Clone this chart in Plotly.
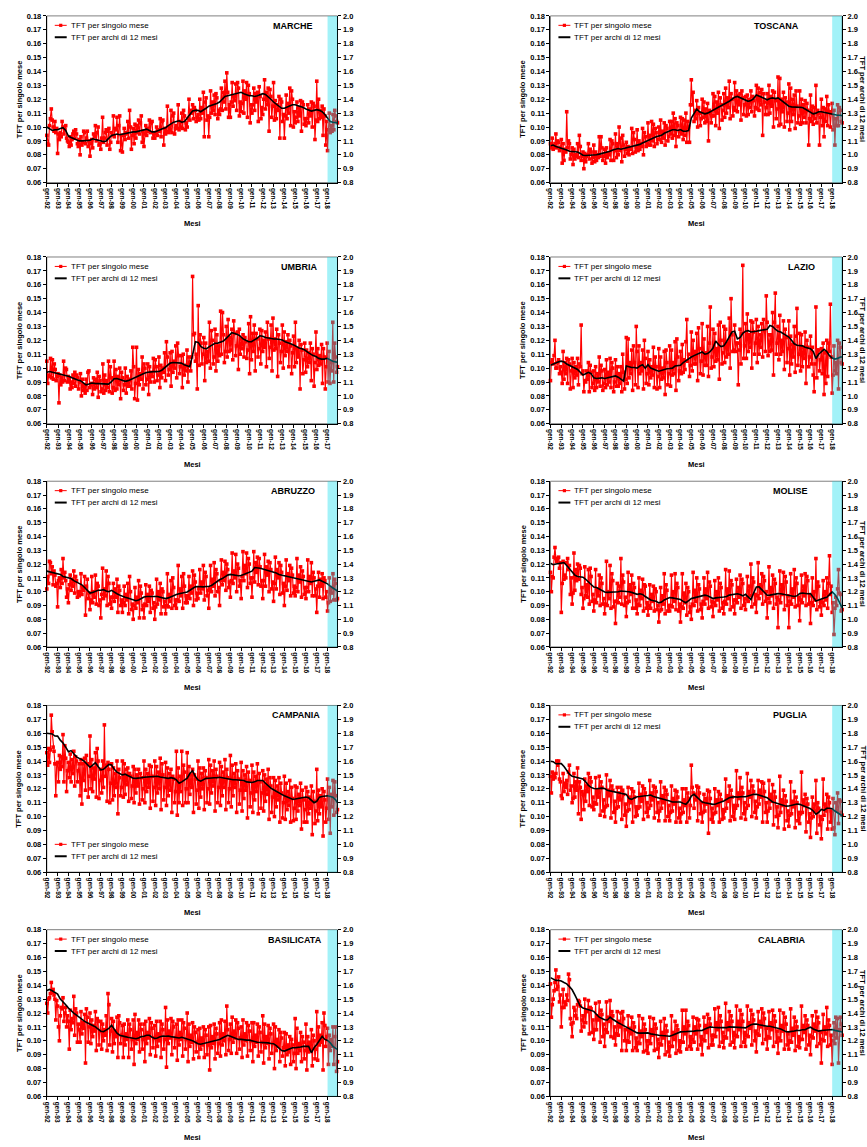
import sys
import plotly.graph_objects as go

W, H = 867, 1147
FONT = "Arial, 'Liberation Sans', sans-serif"
MESI = ["gen", "feb", "mar", "apr", "mag", "giu", "lug", "ago", "set", "ott", "nov", "dic"]

# ---------------- DATA: monthly TFT (thousandths), one row per year from 1992 ----------------
marche_mese = [
    94, 88, 87, 101, 106, 113, 105, 100, 97, 104, 96, 99,
    81, 95, 91, 96, 93, 104, 100, 95, 98, 101, 92, 90,
    89, 86, 93, 87, 91, 95, 97, 92, 98, 95, 88, 86,
    91, 80, 93, 87, 89, 97, 96, 88, 92, 97, 86, 90,
    79, 88, 91, 85, 95, 93, 101, 90, 96, 100, 87, 88,
    84, 92, 107, 89, 92, 96, 98, 87, 97, 99, 84, 89,
    96, 94, 108, 93, 99, 98, 107, 89, 101, 108, 83, 94,
    82, 94, 99, 91, 96, 95, 104, 92, 112, 100, 84, 94,
    99, 88, 102, 92, 101, 96, 105, 95, 103, 108, 89, 97,
    86, 95, 101, 94, 99, 97, 105, 96, 103, 104, 92, 95,
    92, 96, 100, 94, 98, 97, 106, 93, 104, 105, 87, 99,
    95, 97, 115, 96, 100, 98, 112, 96, 108, 110, 95, 99,
    101, 99, 116, 98, 104, 100, 110, 99, 112, 108, 98, 103,
    100, 106, 120, 105, 112, 110, 116, 106, 114, 112, 104, 107,
    109, 105, 120, 106, 114, 110, 125, 93, 118, 121, 105, 108,
    93, 107, 126, 110, 118, 112, 123, 109, 124, 121, 106, 112,
    109, 113, 128, 112, 125, 118, 133, 113, 139, 125, 107, 116,
    107, 118, 132, 115, 122, 119, 131, 112, 132, 128, 108, 118,
    111, 117, 133, 110, 126, 120, 132, 107, 130, 124, 103, 116,
    110, 116, 128, 112, 124, 118, 125, 104, 129, 122, 106, 114,
    109, 120, 134, 113, 125, 116, 128, 97, 127, 122, 107, 115,
    132, 105, 119, 106, 116, 112, 122, 92, 120, 118, 104, 109,
    92, 108, 123, 106, 117, 110, 128, 101, 126, 120, 100, 111,
    103, 107, 118, 104, 114, 108, 119, 97, 118, 116, 102, 106,
    101, 106, 116, 103, 113, 108, 118, 100, 117, 115, 91, 105,
    133, 104, 120, 106, 112, 107, 115, 94, 113, 108, 87, 104,
    83, 98, 110, 96, 101, 97, 109, 98, 112, 108, 104, 103,
]
toscana_mese = [
    88, 85, 92, 84, 86, 88, 95, 85, 90, 89, 83, 85,
    91, 74, 88, 76, 84, 82, 111, 85, 90, 88, 77, 80,
    85, 73, 84, 77, 80, 79, 88, 78, 94, 86, 76, 79,
    82, 70, 81, 75, 79, 80, 88, 77, 84, 82, 74, 78,
    87, 75, 82, 76, 80, 78, 93, 79, 93, 85, 76, 79,
    84, 74, 85, 78, 81, 80, 91, 76, 90, 88, 76, 83,
    95, 78, 88, 80, 100, 83, 92, 75, 94, 87, 79, 84,
    89, 81, 86, 80, 85, 84, 99, 81, 96, 91, 82, 85,
    98, 83, 90, 84, 88, 86, 99, 80, 96, 93, 86, 88,
    103, 87, 94, 87, 104, 90, 102, 86, 99, 96, 88, 91,
    100, 91, 105, 89, 97, 92, 103, 87, 101, 99, 90, 93,
    104, 95, 104, 92, 110, 94, 106, 86, 103, 101, 93, 97,
    107, 95, 106, 91, 105, 94, 110, 89, 104, 100, 89, 116,
    134, 116, 125, 104, 112, 106, 119, 100, 114, 110, 101, 106,
    120, 107, 118, 103, 113, 104, 117, 90, 112, 110, 103, 108,
    124, 108, 122, 101, 118, 110, 125, 99, 121, 116, 105, 112,
    124, 107, 128, 110, 121, 114, 133, 106, 124, 120, 108, 114,
    132, 112, 126, 111, 123, 116, 124, 105, 126, 121, 109, 116,
    122, 108, 123, 109, 120, 114, 126, 111, 122, 119, 108, 114,
    130, 113, 128, 112, 125, 116, 127, 94, 124, 118, 109, 114,
    124, 109, 130, 110, 122, 115, 126, 100, 125, 119, 106, 113,
    136, 101, 135, 102, 120, 111, 125, 100, 121, 118, 104, 110,
    131, 98, 128, 104, 120, 109, 123, 99, 126, 115, 103, 108,
    126, 102, 120, 103, 116, 107, 119, 103, 117, 112, 87, 106,
    123, 104, 115, 102, 114, 106, 130, 103, 112, 110, 87, 107,
    120, 101, 114, 93, 113, 104, 122, 101, 116, 111, 100, 110,
    117, 98, 112, 87, 106, 101, 116, 101, 114, 112, 104, 103,
]
umbria_mese = [
    105, 89, 95, 94, 107, 93, 106, 92, 103, 99, 91, 94,
    96, 75, 95, 88, 93, 90, 105, 91, 100, 99, 90, 94,
    92, 85, 90, 86, 95, 89, 97, 87, 95, 93, 85, 90,
    96, 80, 92, 84, 88, 82, 92, 84, 97, 98, 86, 88,
    89, 81, 93, 85, 92, 86, 97, 79, 94, 91, 83, 85,
    103, 82, 95, 84, 91, 86, 105, 83, 101, 93, 82, 86,
    105, 84, 99, 85, 94, 88, 100, 78, 97, 93, 84, 88,
    100, 82, 94, 87, 92, 87, 98, 85, 115, 101, 78, 89,
    115, 77, 99, 88, 96, 92, 108, 85, 103, 100, 88, 92,
    103, 81, 101, 90, 97, 94, 107, 90, 106, 101, 91, 95,
    108, 86, 102, 93, 100, 97, 111, 91, 119, 108, 95, 99,
    111, 87, 112, 97, 105, 100, 116, 93, 118, 109, 96, 101,
    109, 86, 110, 95, 102, 98, 113, 90, 108, 104, 98, 108,
    166, 124, 125, 105, 110, 85, 145, 102, 124, 118, 103, 110,
    122, 91, 118, 104, 112, 105, 133, 100, 127, 120, 103, 108,
    128, 98, 124, 105, 116, 109, 141, 110, 140, 124, 104, 112,
    130, 108, 135, 112, 122, 113, 128, 106, 134, 125, 109, 116,
    126, 99, 128, 110, 121, 114, 124, 108, 122, 119, 107, 113,
    132, 96, 137, 106, 125, 112, 131, 98, 125, 121, 108, 114,
    128, 103, 127, 112, 120, 115, 126, 101, 133, 121, 107, 115,
    131, 98, 136, 113, 121, 114, 128, 94, 124, 118, 104, 112,
    131, 100, 126, 109, 119, 112, 124, 101, 120, 116, 96, 111,
    123, 101, 133, 104, 114, 108, 120, 85, 117, 113, 96, 106,
    118, 97, 113, 101, 111, 104, 118, 91, 114, 110, 87, 104,
    126, 99, 114, 102, 109, 103, 117, 89, 114, 108, 85, 101,
    118, 90, 112, 89, 104, 98, 133, 90, 118, 108, 97, 101,
]
lazio_mese = [
    91, 104, 106, 103, 109, 120, 100, 100, 104, 106, 96, 101,
    97, 89, 112, 92, 104, 96, 107, 89, 106, 103, 85, 98,
    107, 86, 104, 93, 101, 95, 107, 88, 103, 101, 131, 96,
    98, 83, 91, 90, 98, 92, 104, 83, 102, 97, 86, 89,
    98, 84, 101, 86, 96, 90, 108, 87, 102, 98, 84, 89,
    99, 86, 106, 88, 97, 90, 107, 86, 104, 100, 83, 90,
    106, 87, 101, 87, 96, 89, 101, 83, 110, 97, 85, 92,
    122, 89, 121, 93, 104, 96, 113, 84, 116, 104, 88, 130,
    112, 86, 116, 96, 104, 98, 113, 85, 120, 107, 89, 96,
    112, 88, 106, 93, 101, 95, 115, 86, 108, 101, 85, 94,
    114, 86, 108, 92, 100, 93, 112, 81, 113, 104, 88, 96,
    116, 87, 113, 95, 104, 96, 119, 84, 121, 108, 91, 98,
    112, 96, 117, 97, 106, 99, 119, 135, 105, 110, 94, 102,
    126, 98, 120, 103, 112, 103, 125, 91, 129, 114, 96, 105,
    132, 95, 121, 102, 111, 102, 130, 94, 118, 144, 100, 108,
    128, 101, 125, 105, 114, 106, 131, 92, 133, 120, 103, 111,
    130, 104, 128, 108, 118, 110, 136, 100, 150, 124, 112, 113,
    131, 112, 118, 118, 88, 113, 128, 103, 125, 174, 107, 116,
    132, 107, 139, 112, 124, 115, 134, 100, 133, 126, 110, 118,
    135, 104, 130, 110, 124, 115, 132, 108, 135, 127, 112, 152,
    133, 109, 124, 112, 124, 113, 140, 95, 133, 154, 110, 118,
    130, 106, 138, 110, 120, 112, 134, 99, 128, 122, 104, 114,
    134, 95, 123, 103, 117, 108, 130, 97, 123, 143, 102, 110,
    125, 98, 124, 101, 115, 107, 126, 89, 120, 115, 101, 108,
    123, 103, 115, 95, 83, 103, 144, 93, 113, 113, 98, 106,
    114, 96, 118, 81, 111, 89, 120, 94, 118, 112, 146, 108,
    82, 95, 116, 98, 104, 96, 120, 85, 118, 115, 104, 103,
]
abruzzo_mese = [
    102, 111, 106, 122, 121, 113, 118, 105, 115, 112, 104, 106,
    89, 108, 110, 103, 116, 106, 124, 110, 114, 108, 96, 102,
    92, 105, 112, 101, 109, 104, 115, 99, 111, 108, 96, 100,
    97, 100, 113, 98, 103, 101, 111, 83, 104, 109, 95, 99,
    87, 94, 111, 92, 100, 96, 112, 91, 106, 104, 90, 94,
    81, 98, 117, 95, 102, 97, 115, 90, 111, 106, 91, 96,
    88, 96, 106, 93, 102, 96, 109, 85, 104, 101, 90, 94,
    85, 92, 104, 90, 98, 94, 106, 84, 111, 100, 87, 91,
    80, 90, 103, 88, 96, 92, 108, 81, 104, 99, 87, 90,
    81, 91, 105, 90, 98, 93, 104, 85, 101, 99, 88, 92,
    80, 89, 109, 91, 100, 94, 106, 84, 102, 100, 89, 93,
    84, 90, 113, 89, 98, 93, 108, 88, 110, 103, 90, 94,
    88, 94, 119, 93, 102, 97, 111, 88, 113, 104, 92, 97,
    92, 97, 111, 95, 104, 99, 115, 90, 112, 107, 94, 99,
    95, 102, 116, 99, 107, 102, 119, 94, 114, 111, 97, 101,
    88, 102, 119, 100, 109, 104, 121, 97, 116, 113, 100, 103,
    90, 108, 123, 105, 114, 108, 122, 101, 120, 116, 103, 107,
    96, 108, 128, 106, 115, 110, 127, 100, 120, 117, 104, 108,
    95, 111, 129, 108, 119, 113, 128, 103, 124, 120, 106, 110,
    96, 110, 129, 107, 121, 114, 125, 105, 124, 118, 104, 108,
    95, 108, 127, 104, 118, 112, 122, 100, 121, 116, 102, 107,
    93, 106, 125, 102, 116, 110, 121, 98, 119, 114, 99, 106,
    90, 104, 123, 101, 113, 108, 119, 97, 117, 112, 99, 104,
    97, 103, 124, 100, 112, 107, 118, 96, 115, 111, 98, 103,
    95, 103, 123, 100, 111, 106, 121, 97, 114, 110, 97, 102,
    85, 104, 114, 96, 109, 104, 113, 95, 110, 108, 96, 100,
    86, 92, 110, 93, 103, 99, 113, 94, 109, 106, 94, 95,
]
molise_mese = [
    114, 100, 111, 110, 125, 132, 124, 122, 124, 125, 117, 121,
    85, 106, 122, 109, 112, 110, 121, 124, 116, 119, 98, 110,
    91, 99, 128, 101, 116, 108, 120, 109, 119, 117, 98, 103,
    88, 95, 118, 97, 105, 96, 116, 91, 117, 111, 93, 98,
    86, 94, 116, 92, 102, 97, 112, 90, 110, 106, 91, 95,
    84, 91, 122, 90, 100, 95, 119, 88, 113, 108, 89, 93,
    77, 93, 106, 92, 104, 96, 124, 91, 112, 107, 90, 96,
    82, 92, 114, 93, 105, 98, 112, 88, 106, 103, 88, 94,
    84, 91, 110, 90, 101, 95, 109, 86, 105, 104, 88, 92,
    83, 90, 105, 88, 98, 93, 104, 86, 102, 100, 87, 90,
    78, 86, 103, 87, 97, 91, 113, 84, 105, 101, 86, 90,
    86, 90, 112, 89, 100, 93, 113, 87, 106, 103, 86, 91,
    78, 89, 113, 88, 99, 92, 106, 83, 103, 100, 85, 89,
    80, 91, 114, 90, 101, 93, 110, 86, 105, 102, 87, 91,
    81, 93, 110, 91, 102, 95, 114, 88, 107, 104, 89, 93,
    82, 92, 108, 90, 100, 94, 110, 86, 106, 103, 88, 92,
    84, 93, 116, 91, 102, 95, 115, 87, 108, 105, 89, 94,
    84, 94, 109, 92, 103, 96, 112, 88, 109, 106, 90, 95,
    87, 95, 111, 93, 104, 97, 120, 89, 110, 107, 91, 98,
    85, 97, 121, 95, 105, 99, 113, 91, 111, 108, 93, 100,
    81, 95, 118, 92, 103, 97, 112, 88, 109, 106, 91, 96,
    74, 94, 115, 92, 105, 98, 114, 87, 111, 107, 90, 97,
    74, 93, 113, 91, 102, 96, 116, 89, 110, 106, 90, 96,
    79, 94, 112, 92, 104, 97, 113, 90, 111, 108, 91, 97,
    77, 92, 110, 90, 100, 94, 124, 87, 107, 104, 89, 93,
    83, 92, 108, 90, 100, 94, 110, 88, 106, 126, 98, 104,
    85, 92, 69, 88, 96, 90, 102, 116, 99, 98, 86, 87,
]
campania_mese = [
    146, 137, 149, 139, 148, 173, 161, 150, 147, 138, 115, 138,
    139, 125, 144, 134, 143, 136, 159, 125, 151, 142, 118, 133,
    139, 128, 145, 125, 141, 131, 147, 122, 143, 140, 125, 133,
    138, 115, 141, 109, 138, 126, 142, 119, 144, 138, 114, 129,
    158, 120, 141, 118, 135, 127, 146, 114, 149, 140, 113, 126,
    134, 117, 140, 121, 166, 129, 137, 111, 139, 134, 110, 124,
    138, 112, 135, 115, 131, 121, 140, 102, 134, 128, 115, 121,
    140, 114, 138, 116, 134, 123, 135, 111, 131, 129, 113, 122,
    136, 110, 134, 117, 130, 122, 134, 109, 131, 128, 112, 120,
    140, 110, 134, 118, 131, 121, 137, 106, 136, 129, 111, 121,
    140, 108, 136, 117, 132, 120, 142, 105, 138, 130, 112, 121,
    139, 108, 135, 115, 131, 119, 134, 103, 129, 127, 110, 118,
    147, 101, 135, 110, 129, 118, 147, 108, 137, 132, 110, 120,
    146, 110, 136, 116, 130, 121, 134, 103, 130, 127, 109, 119,
    140, 106, 135, 114, 131, 120, 135, 105, 133, 128, 110, 120,
    141, 109, 137, 117, 133, 122, 140, 104, 134, 129, 110, 121,
    139, 108, 136, 115, 132, 121, 141, 105, 134, 128, 110, 120,
    144, 107, 137, 115, 131, 121, 138, 103, 133, 127, 109, 119,
    139, 104, 133, 113, 130, 119, 136, 99, 132, 126, 107, 117,
    137, 103, 132, 112, 129, 118, 138, 102, 131, 125, 106, 117,
    133, 104, 130, 111, 127, 116, 134, 98, 128, 122, 103, 114,
    128, 100, 126, 107, 122, 112, 128, 96, 124, 117, 99, 110,
    129, 98, 124, 105, 118, 108, 126, 96, 121, 113, 97, 106,
    122, 98, 121, 104, 116, 108, 124, 91, 119, 112, 96, 105,
    121, 96, 118, 102, 114, 106, 122, 87, 118, 111, 95, 104,
    134, 97, 119, 102, 115, 107, 120, 86, 118, 112, 96, 106,
    127, 98, 121, 88, 116, 107, 126, 101, 125, 115, 103, 105,
]
puglia_mese = [
    129, 117, 132, 127, 130, 128, 131, 140, 137, 140, 127, 125,
    115, 113, 131, 118, 124, 121, 126, 116, 132, 137, 119, 122,
    110, 113, 131, 114, 125, 119, 135, 102, 125, 121, 98, 118,
    116, 105, 127, 111, 122, 118, 131, 108, 128, 125, 107, 114,
    105, 110, 128, 109, 119, 114, 129, 101, 125, 121, 104, 112,
    100, 107, 130, 108, 119, 115, 126, 99, 122, 119, 103, 111,
    96, 106, 121, 107, 117, 112, 121, 98, 119, 116, 101, 109,
    93, 104, 121, 105, 114, 110, 120, 96, 118, 114, 100, 107,
    101, 106, 124, 107, 116, 111, 122, 98, 120, 117, 103, 110,
    100, 106, 126, 108, 117, 112, 122, 99, 121, 118, 103, 110,
    97, 104, 125, 106, 115, 110, 121, 97, 119, 116, 100, 108,
    97, 103, 122, 104, 113, 109, 119, 96, 118, 114, 99, 106,
    96, 102, 120, 103, 112, 108, 120, 96, 117, 113, 99, 108,
    137, 121, 117, 106, 116, 112, 122, 97, 121, 117, 102, 110,
    96, 103, 116, 104, 113, 109, 119, 88, 118, 113, 98, 106,
    96, 102, 120, 103, 112, 108, 118, 96, 116, 112, 98, 105,
    99, 104, 127, 106, 115, 111, 122, 97, 119, 114, 100, 108,
    98, 106, 133, 108, 117, 113, 128, 99, 121, 117, 102, 110,
    98, 106, 131, 108, 118, 114, 126, 100, 122, 118, 103, 111,
    99, 107, 126, 109, 119, 114, 125, 96, 124, 118, 103, 110,
    96, 104, 126, 106, 116, 111, 123, 94, 118, 114, 100, 107,
    92, 101, 129, 103, 112, 108, 119, 91, 115, 111, 97, 104,
    93, 101, 125, 102, 111, 107, 118, 92, 114, 110, 97, 103,
    95, 102, 132, 103, 112, 108, 116, 89, 113, 109, 96, 102,
    85, 99, 114, 100, 109, 104, 126, 88, 110, 106, 94, 100,
    84, 98, 127, 101, 109, 104, 116, 91, 114, 110, 96, 104,
    91, 113, 92, 87, 110, 104, 117, 95, 112, 111, 103, 101,
]
basilicata_mese = [
    127, 120, 130, 131, 134, 142, 135, 137, 133, 130, 115, 129,
    125, 110, 100, 118, 124, 123, 131, 114, 120, 124, 110, 118,
    114, 94, 122, 108, 116, 113, 132, 104, 123, 120, 99, 112,
    108, 99, 121, 105, 113, 109, 119, 84, 123, 117, 99, 110,
    120, 98, 115, 103, 111, 107, 121, 93, 116, 114, 97, 107,
    114, 94, 112, 100, 108, 104, 118, 93, 134, 126, 97, 107,
    116, 92, 114, 98, 107, 103, 117, 88, 118, 113, 98, 104,
    111, 88, 112, 97, 105, 101, 115, 88, 112, 108, 94, 101,
    115, 83, 119, 98, 106, 101, 115, 92, 112, 108, 94, 101,
    112, 85, 114, 98, 106, 102, 116, 90, 113, 109, 95, 102,
    111, 89, 114, 96, 105, 100, 114, 88, 112, 108, 94, 101,
    124, 81, 115, 98, 107, 102, 116, 90, 114, 110, 95, 102,
    112, 86, 115, 97, 106, 101, 115, 89, 113, 109, 94, 101,
    120, 85, 112, 96, 104, 99, 113, 87, 110, 106, 92, 99,
    108, 88, 109, 94, 102, 97, 110, 88, 108, 104, 90, 97,
    110, 79, 111, 95, 103, 98, 112, 87, 109, 105, 91, 98,
    113, 89, 115, 97, 105, 100, 114, 90, 125, 108, 93, 101,
    112, 91, 117, 99, 107, 102, 115, 91, 113, 109, 94, 102,
    110, 88, 115, 97, 105, 100, 113, 89, 111, 107, 93, 100,
    113, 85, 113, 96, 104, 99, 112, 89, 110, 106, 92, 99,
    118, 84, 112, 95, 103, 98, 111, 87, 109, 105, 91, 98,
    112, 80, 110, 93, 101, 96, 108, 85, 106, 102, 89, 95,
    106, 82, 105, 90, 97, 92, 103, 83, 101, 97, 85, 91,
    116, 80, 109, 91, 98, 93, 106, 85, 103, 99, 87, 93,
    112, 79, 103, 92, 99, 94, 108, 82, 104, 100, 87, 94,
    121, 86, 110, 97, 104, 99, 113, 79, 120, 111, 96, 103,
    109, 83, 104, 93, 101, 96, 110, 83, 103, 110, 78, 85,
]
calabria_mese = [
    141, 117, 126, 130, 136, 142, 151, 137, 139, 146, 128, 133,
    110, 124, 137, 124, 128, 126, 133, 129, 148, 144, 116, 112,
    103, 113, 124, 122, 118, 116, 126, 129, 128, 125, 107, 115,
    118, 110, 130, 113, 122, 121, 129, 105, 124, 123, 106, 115,
    101, 108, 127, 108, 118, 115, 128, 99, 122, 119, 103, 112,
    96, 108, 128, 106, 117, 114, 129, 103, 121, 118, 102, 110,
    97, 105, 121, 104, 114, 110, 120, 93, 121, 116, 100, 108,
    93, 100, 118, 99, 109, 105, 117, 93, 113, 110, 95, 102,
    93, 99, 118, 98, 107, 103, 116, 92, 112, 108, 93, 100,
    91, 100, 117, 98, 108, 104, 116, 93, 112, 109, 94, 101,
    88, 98, 114, 97, 106, 102, 116, 90, 111, 107, 92, 99,
    89, 96, 118, 96, 106, 101, 114, 91, 111, 108, 93, 100,
    92, 99, 122, 99, 110, 105, 122, 94, 114, 111, 96, 103,
    94, 101, 117, 99, 110, 105, 116, 94, 115, 111, 97, 103,
    90, 101, 117, 100, 111, 106, 119, 95, 116, 112, 97, 104,
    97, 104, 123, 103, 113, 108, 124, 96, 118, 114, 99, 106,
    95, 103, 127, 102, 113, 108, 121, 97, 118, 114, 99, 106,
    95, 104, 125, 103, 114, 108, 122, 96, 119, 114, 99, 106,
    96, 104, 125, 103, 113, 109, 122, 97, 119, 115, 100, 107,
    92, 105, 121, 104, 114, 110, 123, 98, 120, 116, 101, 109,
    94, 103, 121, 102, 113, 108, 122, 96, 118, 114, 99, 107,
    91, 102, 122, 100, 111, 107, 120, 94, 117, 112, 97, 105,
    94, 100, 123, 99, 109, 104, 117, 93, 114, 110, 96, 103,
    95, 101, 125, 101, 111, 106, 118, 94, 115, 111, 97, 104,
    90, 103, 118, 102, 112, 107, 121, 96, 117, 113, 98, 106,
    84, 101, 119, 100, 110, 105, 124, 96, 115, 111, 97, 104,
    83, 100, 113, 98, 117, 102, 116, 84, 108, 117, 112, 104,
]

# ---------------- DATA: TFT per archi di 12 mesi (right axis), quarterly (gen/apr/lug/ott) + last month ----------------
marche_archi = [
    1.200, 1.185, 1.175, 1.180, 1.180, 1.190, 1.195, 1.175, 1.135, 1.125, 1.115, 1.110,
    1.100, 1.100, 1.100, 1.105, 1.105, 1.115, 1.110, 1.105, 1.100, 1.095, 1.100, 1.120,
    1.140, 1.145, 1.150, 1.145, 1.150, 1.150, 1.155, 1.160, 1.165, 1.165, 1.170, 1.175,
    1.180, 1.185, 1.175, 1.165, 1.165, 1.170, 1.180, 1.190, 1.195, 1.210, 1.225, 1.235,
    1.240, 1.245, 1.235, 1.240, 1.265, 1.290, 1.315, 1.320, 1.320, 1.310, 1.320, 1.335,
    1.350, 1.355, 1.360, 1.370, 1.380, 1.400, 1.420, 1.425, 1.430, 1.435, 1.440, 1.445,
    1.450, 1.440, 1.430, 1.425, 1.425, 1.420, 1.425, 1.435, 1.440, 1.435, 1.420, 1.400,
    1.380, 1.365, 1.345, 1.335, 1.335, 1.345, 1.355, 1.360, 1.360, 1.355, 1.350, 1.340,
    1.330, 1.320, 1.315, 1.320, 1.325, 1.320, 1.310, 1.290, 1.265, 1.240, 1.235, 1.235,
    1.230,
]
toscana_archi = [
    1.065, 1.070, 1.060, 1.055, 1.047, 1.045, 1.035, 1.025, 1.023, 1.025, 1.020, 1.010,
    0.997, 0.995, 0.995, 0.995, 0.997, 1.000, 1.005, 1.010, 1.010, 1.015, 1.025, 1.035,
    1.040, 1.045, 1.040, 1.045, 1.047, 1.055, 1.060, 1.065, 1.068, 1.075, 1.085, 1.095,
    1.106, 1.115, 1.125, 1.130, 1.135, 1.140, 1.155, 1.165, 1.175, 1.180, 1.180, 1.175,
    1.182, 1.170, 1.170, 1.175, 1.265, 1.300, 1.330, 1.310, 1.300, 1.295, 1.300, 1.310,
    1.325, 1.335, 1.340, 1.350, 1.360, 1.370, 1.385, 1.400, 1.415, 1.420, 1.410, 1.400,
    1.390, 1.385, 1.390, 1.405, 1.430, 1.425, 1.415, 1.405, 1.396, 1.405, 1.410, 1.405,
    1.410, 1.395, 1.380, 1.360, 1.350, 1.345, 1.345, 1.345, 1.344, 1.340, 1.330, 1.320,
    1.306, 1.295, 1.300, 1.310, 1.310, 1.305, 1.300, 1.295, 1.294, 1.290, 1.285, 1.285,
    1.282,
]
umbria_archi = [
    1.170, 1.175, 1.170, 1.165, 1.164, 1.160, 1.150, 1.145, 1.140, 1.130, 1.120, 1.115,
    1.110, 1.095, 1.080, 1.085, 1.093, 1.090, 1.090, 1.085, 1.086, 1.085, 1.085, 1.100,
    1.124, 1.125, 1.120, 1.110, 1.105, 1.110, 1.120, 1.130, 1.140, 1.150, 1.160, 1.165,
    1.170, 1.175, 1.175, 1.175, 1.176, 1.185, 1.200, 1.220, 1.236, 1.240, 1.240, 1.235,
    1.236, 1.225, 1.215, 1.210, 1.295, 1.390, 1.385, 1.355, 1.343, 1.340, 1.355, 1.370,
    1.379, 1.380, 1.385, 1.395, 1.414, 1.435, 1.455, 1.450, 1.443, 1.430, 1.410, 1.400,
    1.390, 1.390, 1.400, 1.415, 1.433, 1.430, 1.420, 1.415, 1.414, 1.410, 1.410, 1.405,
    1.402, 1.390, 1.380, 1.375, 1.367, 1.355, 1.345, 1.340, 1.331, 1.315, 1.300, 1.290,
    1.283, 1.270, 1.265, 1.265, 1.271, 1.260, 1.250, 1.245,
    1.243,
]
lazio_archi = [
    1.220, 1.230, 1.240, 1.245, 1.250, 1.245, 1.230, 1.220, 1.210, 1.205, 1.190, 1.170,
    1.150, 1.160, 1.170, 1.160, 1.130, 1.125, 1.130, 1.130, 1.125, 1.130, 1.130, 1.135,
    1.144, 1.135, 1.120, 1.106, 1.216, 1.210, 1.205, 1.205, 1.200, 1.215, 1.225, 1.200,
    1.225, 1.200, 1.190, 1.185, 1.178, 1.185, 1.190, 1.195, 1.197, 1.200, 1.215, 1.220,
    1.220, 1.240, 1.255, 1.265, 1.280, 1.290, 1.300, 1.305, 1.316, 1.300, 1.305, 1.320,
    1.345, 1.395, 1.370, 1.355, 1.360, 1.390, 1.430, 1.460, 1.465, 1.410, 1.420, 1.450,
    1.465, 1.470, 1.460, 1.460, 1.465, 1.470, 1.475, 1.475, 1.480, 1.507, 1.500, 1.480,
    1.465, 1.460, 1.450, 1.440, 1.424, 1.400, 1.375, 1.365, 1.364, 1.360, 1.350, 1.345,
    1.340, 1.320, 1.269, 1.300, 1.321, 1.335, 1.320, 1.290, 1.273, 1.265, 1.270, 1.280,
    1.280,
]
abruzzo_archi = [
    1.349, 1.345, 1.340, 1.335, 1.330, 1.325, 1.310, 1.305, 1.300, 1.295, 1.280, 1.270,
    1.262, 1.250, 1.230, 1.210, 1.190, 1.195, 1.205, 1.210, 1.210, 1.215, 1.205, 1.200,
    1.210, 1.195, 1.185, 1.175, 1.166, 1.160, 1.155, 1.150, 1.143, 1.135, 1.140, 1.150,
    1.162, 1.165, 1.165, 1.165, 1.166, 1.165, 1.160, 1.155, 1.150, 1.155, 1.165, 1.175,
    1.180, 1.185, 1.190, 1.195, 1.198, 1.210, 1.225, 1.235, 1.238, 1.235, 1.235, 1.237,
    1.238, 1.245, 1.260, 1.275, 1.286, 1.295, 1.310, 1.320, 1.325, 1.320, 1.315, 1.315,
    1.317, 1.325, 1.335, 1.345, 1.349, 1.375, 1.375, 1.370, 1.365, 1.360, 1.350, 1.345,
    1.341, 1.335, 1.325, 1.320, 1.317, 1.310, 1.305, 1.300, 1.300, 1.295, 1.290, 1.285,
    1.277, 1.270, 1.270, 1.275, 1.281, 1.285, 1.275, 1.265, 1.257, 1.240, 1.225, 1.210,
    1.205,
]
molise_archi = [
    1.406, 1.395, 1.400, 1.405, 1.406, 1.410, 1.390, 1.365, 1.341, 1.320, 1.310, 1.310,
    1.305, 1.290, 1.270, 1.250, 1.234, 1.230, 1.220, 1.205, 1.198, 1.195, 1.195, 1.200,
    1.198, 1.200, 1.205, 1.205, 1.205, 1.200, 1.195, 1.190, 1.181, 1.185, 1.180, 1.165,
    1.150, 1.140, 1.135, 1.130, 1.119, 1.125, 1.140, 1.150, 1.157, 1.155, 1.150, 1.145,
    1.143, 1.130, 1.120, 1.135, 1.150, 1.155, 1.160, 1.165, 1.166, 1.175, 1.170, 1.160,
    1.150, 1.155, 1.160, 1.160, 1.162, 1.165, 1.175, 1.180, 1.181, 1.185, 1.180, 1.170,
    1.181, 1.160, 1.143, 1.190, 1.234, 1.235, 1.215, 1.190, 1.174, 1.175, 1.180, 1.185,
    1.186, 1.185, 1.180, 1.175, 1.174, 1.170, 1.165, 1.170, 1.186, 1.190, 1.185, 1.185,
    1.186, 1.160, 1.133, 1.140, 1.150, 1.155, 1.160, 1.180, 1.198, 1.180, 1.150, 1.110,
    1.083,
]
campania_archi = [
    1.800, 1.800, 1.795, 1.780, 1.779, 1.750, 1.730, 1.700, 1.667, 1.675, 1.650, 1.630,
    1.619, 1.610, 1.595, 1.575, 1.555, 1.570, 1.588, 1.560, 1.536, 1.540, 1.560, 1.575,
    1.571, 1.540, 1.520, 1.510, 1.500, 1.505, 1.495, 1.480, 1.476, 1.475, 1.480, 1.480,
    1.483, 1.485, 1.485, 1.485, 1.488, 1.490, 1.485, 1.480, 1.476, 1.475, 1.480, 1.475,
    1.464, 1.440, 1.450, 1.465, 1.476, 1.510, 1.530, 1.490, 1.464, 1.455, 1.465, 1.475,
    1.476, 1.480, 1.480, 1.480, 1.483, 1.480, 1.475, 1.470, 1.469, 1.465, 1.465, 1.465,
    1.464, 1.460, 1.450, 1.445, 1.445, 1.450, 1.460, 1.460, 1.460, 1.440, 1.420, 1.405,
    1.393, 1.380, 1.370, 1.360, 1.350, 1.340, 1.330, 1.325, 1.326, 1.330, 1.335, 1.340,
    1.341, 1.335, 1.320, 1.300, 1.310, 1.340, 1.345, 1.350, 1.350, 1.345, 1.340, 1.320,
    1.298,
]
puglia_archi = [
    1.598, 1.595, 1.580, 1.580, 1.581, 1.560, 1.530, 1.505, 1.490, 1.485, 1.485, 1.480,
    1.471, 1.450, 1.425, 1.410, 1.402, 1.400, 1.405, 1.405, 1.402, 1.390, 1.385, 1.380,
    1.376, 1.370, 1.365, 1.365, 1.360, 1.330, 1.324, 1.335, 1.343, 1.345, 1.345, 1.350,
    1.352, 1.355, 1.345, 1.340, 1.336, 1.330, 1.325, 1.320, 1.312, 1.305, 1.305, 1.305,
    1.305, 1.295, 1.288, 1.310, 1.348, 1.360, 1.340, 1.320, 1.305, 1.300, 1.295, 1.290,
    1.288, 1.290, 1.300, 1.305, 1.312, 1.325, 1.335, 1.340, 1.343, 1.340, 1.345, 1.345,
    1.343, 1.350, 1.355, 1.360, 1.360, 1.355, 1.345, 1.340, 1.336, 1.320, 1.305, 1.300,
    1.295, 1.285, 1.280, 1.275, 1.276, 1.280, 1.285, 1.290, 1.288, 1.280, 1.270, 1.260,
    1.257, 1.240, 1.217, 1.230, 1.252, 1.245, 1.260, 1.260, 1.257, 1.240, 1.230, 1.215,
    1.205,
]
basilicata_archi = [
    1.562, 1.570, 1.560, 1.550, 1.536, 1.500, 1.483, 1.460, 1.436, 1.415, 1.400, 1.385,
    1.369, 1.350, 1.340, 1.330, 1.317, 1.310, 1.300, 1.285, 1.269, 1.265, 1.275, 1.290,
    1.312, 1.280, 1.255, 1.240, 1.233, 1.230, 1.225, 1.220, 1.217, 1.215, 1.220, 1.230,
    1.233, 1.240, 1.240, 1.225, 1.217, 1.220, 1.230, 1.235, 1.233, 1.235, 1.230, 1.225,
    1.221, 1.220, 1.225, 1.220, 1.214, 1.205, 1.200, 1.190, 1.179, 1.175, 1.180, 1.185,
    1.186, 1.190, 1.195, 1.200, 1.210, 1.220, 1.230, 1.240, 1.233, 1.225, 1.215, 1.210,
    1.210, 1.205, 1.205, 1.205, 1.202, 1.195, 1.190, 1.190, 1.186, 1.185, 1.185, 1.180,
    1.179, 1.165, 1.145, 1.130, 1.126, 1.135, 1.145, 1.150, 1.150, 1.150, 1.155, 1.160,
    1.162, 1.160, 1.114, 1.150, 1.174, 1.200, 1.233, 1.210, 1.202, 1.185, 1.160, 1.145,
    1.138,
]
calabria_archi = [
    1.655, 1.645, 1.635, 1.635, 1.631, 1.620, 1.610, 1.590, 1.567, 1.530, 1.485, 1.450,
    1.436, 1.430, 1.425, 1.420, 1.412, 1.390, 1.370, 1.360, 1.352, 1.350, 1.370, 1.355,
    1.340, 1.330, 1.320, 1.310, 1.298, 1.290, 1.280, 1.270, 1.257, 1.255, 1.257, 1.257,
    1.257, 1.250, 1.245, 1.240, 1.240, 1.238, 1.235, 1.233, 1.233, 1.240, 1.250, 1.260,
    1.264, 1.265, 1.265, 1.268, 1.269, 1.270, 1.273, 1.273, 1.274, 1.285, 1.295, 1.300,
    1.298, 1.295, 1.295, 1.295, 1.293, 1.295, 1.300, 1.300, 1.298, 1.295, 1.295, 1.295,
    1.293, 1.305, 1.315, 1.320, 1.321, 1.315, 1.310, 1.305, 1.305, 1.305, 1.300, 1.295,
    1.293, 1.285, 1.275, 1.265, 1.264, 1.265, 1.270, 1.275, 1.274, 1.280, 1.280, 1.290,
    1.298, 1.285, 1.275, 1.270, 1.274, 1.275, 1.275, 1.280, 1.281, 1.275, 1.270, 1.265,
    1.264,
]

regioni = ["MARCHE", "TOSCANA", "UMBRIA", "LAZIO", "ABRUZZO", "MOLISE", "CAMPANIA", "PUGLIA", "BASILICATA", "CALABRIA"]
anno_fine = [2018, 2018, 2017, 2018, 2018, 2018, 2018, 2018, 2018, 2018]
serie_mese = [marche_mese, toscana_mese, umbria_mese, lazio_mese, abruzzo_mese,
              molise_mese, campania_mese, puglia_mese, basilicata_mese, calabria_mese]
serie_archi = [marche_archi, toscana_archi, umbria_archi, lazio_archi, abruzzo_archi,
               molise_archi, campania_archi, puglia_archi, basilicata_archi, calabria_archi]
nome_mese = "TFT per singolo mese"
nome_archi = "TFT per archi di 12 mesi"

# ---------------- LAYOUT GEOMETRY (pixels) ----------------
COLS = [(43, 335), (549, 842)]
ROWS = [(12, 180), (255, 423), (481, 648), (707, 875), (933, 1101)]
TITLE_X = [290, 776, 296, 801, 290, 790, 293, 790, 292, 781]
LEGEND_BOTTOM = [False, False, False, False, False, False, True, False, False, False]


def px(x):
    return x / W


def py(y):
    return 1 - y / H


def categorie(fine):
    return [f"{m}-{a % 100:02d}" for a in range(1992, fine + 1) for m in MESI]


fig = go.Figure()
layout = dict(width=W, height=H, margin=dict(l=0, r=0, t=0, b=0), autosize=False,
              paper_bgcolor="white", plot_bgcolor="white", showlegend=False,
              font=dict(family=FONT, color="black"))
shapes, annotations = [], []

for i in range(10):
    k = i + 1
    col, row = i % 2, i // 2
    x0p, x1p = COLS[col]
    ytp, ybp = ROWS[row]
    cats = categorie(anno_fine[i])
    n = len(cats)
    mese = serie_mese[i]
    archi = serie_archi[i]
    if len(mese) != n:
        print(f"warning {regioni[i]}: {len(mese)} vs {n}", file=sys.stderr)
    cats_archi = cats[::3] + [cats[-1]]
    if len(archi) != len(cats_archi):
        print(f"warning archi {regioni[i]}: {len(archi)} vs {len(cats_archi)}", file=sys.stderr)

    xa = "x" if k == 1 else f"x{k}"
    yl = "y" if k == 1 else f"y{2 * k - 1}"
    yr = f"y{2 * k}"

    fig.add_trace(go.Scatter(
        x=cats[:len(mese)], y=[v / 1000 for v in mese], xaxis=xa, yaxis=yl,
        mode="lines+markers", name=nome_mese,
        line=dict(color="#FF0000", width=1.15),
        marker=dict(symbol="square", size=3.6, color="#FF0000", line=dict(width=0)),
        showlegend=False, cliponaxis=False))
    fig.add_trace(go.Scatter(
        x=cats_archi[:len(archi)], y=archi, xaxis=xa, yaxis=yr,
        mode="lines", name=nome_archi,
        line=dict(color="#000000", width=1.6), showlegend=False))

    gen_ticks = [c for c in cats if c.startswith("gen-")]
    xname = "xaxis" if k == 1 else f"xaxis{k}"
    ylname = "yaxis" if k == 1 else f"yaxis{2 * k - 1}"
    yrname = f"yaxis{2 * k}"
    layout[xname] = dict(
        domain=[px(x0p), px(x1p)], anchor=yl, type="category",
        categoryorder="array", categoryarray=cats, range=[0, n - 1],
        tickmode="array", tickvals=gen_ticks, ticktext=gen_ticks, tickangle=90,
        tickfont=dict(size=6.5, family=FONT, weight="bold", color="black"),
        ticks="outside", ticklen=3, tickcolor="black", tickwidth=1,
        showline=True, linecolor="black", linewidth=1,
        showgrid=False, zeroline=False, fixedrange=True)
    axis_common = dict(anchor=xa, ticks="outside", ticklen=3, tickcolor="black", tickwidth=1,
                       showline=True, linecolor="black", linewidth=1,
                       showgrid=False, zeroline=False, fixedrange=True,
                       tickfont=dict(size=7.5, family=FONT, weight="bold", color="black"))
    layout[ylname] = dict(domain=[py(ybp), py(ytp)], range=[0.06, 0.18], tick0=0.06, dtick=0.01,
                          tickformat=".2f", side="left", **axis_common)
    layout[yrname] = dict(domain=[py(ybp), py(ytp)], range=[0.8, 2.0], tick0=0.8, dtick=0.1,
                          tickformat=".1f", side="right", overlaying=yl, **axis_common)

    # plot border (grey frame)
    shapes.append(dict(type="rect", xref=f"{xa} domain", yref=f"{yl} domain",
                       x0=0, x1=1, y0=0, y1=1, line=dict(color="#808080", width=1),
                       fillcolor="rgba(0,0,0,0)", layer="below"))
    # cyan band over the last year
    band_start = cats.index(f"gen-{anno_fine[i] % 100:02d}")
    shapes.append(dict(type="rect", xref=xa, yref=f"{yl} domain",
                       x0=band_start, x1=n - 1, y0=0, y1=1,
                       fillcolor="rgba(0,220,235,0.36)", line=dict(width=0), layer="above"))

    # panel title
    annotations.append(dict(text=f"<b>{regioni[i]}</b>", x=px(TITLE_X[i]), y=py(ytp + 10),
                            xref="paper", yref="paper", xanchor="center", yanchor="middle",
                            showarrow=False, font=dict(size=9, family=FONT, color="black")))
    # legend (manual, inside the plot)
    if LEGEND_BOTTOM[i]:
        ly1, ly2 = ybp - 28, ybp - 16
    else:
        ly1, ly2 = ytp + 9.5, ytp + 21.5
    lx0, lx1, ltx = x0p + 8, x0p + 20, x0p + 22
    shapes.append(dict(type="line", xref="paper", yref="paper", x0=px(lx0), x1=px(lx1),
                       y0=py(ly1), y1=py(ly1), line=dict(color="#FF0000", width=1)))
    mx = (lx0 + lx1) / 2
    shapes.append(dict(type="rect", xref="paper", yref="paper", x0=px(mx - 1.6), x1=px(mx + 1.6),
                       y0=py(ly1 + 1.6), y1=py(ly1 - 1.6), fillcolor="#FF0000", line=dict(width=0)))
    shapes.append(dict(type="line", xref="paper", yref="paper", x0=px(lx0), x1=px(lx1),
                       y0=py(ly2), y1=py(ly2), line=dict(color="#000000", width=2)))
    for ly, txt in ((ly1, nome_mese), (ly2, nome_archi)):
        annotations.append(dict(text=txt, x=px(ltx), y=py(ly), xref="paper", yref="paper",
                                xanchor="left", yanchor="middle", showarrow=False,
                                font=dict(size=8, family=FONT, color="black")))
    # axis titles
    annotations.append(dict(text="<b>TFT per singolo mese</b>", x=px(x0p - 28), y=py((ytp + ybp) / 2),
                            xref="paper", yref="paper", xanchor="center", yanchor="middle",
                            textangle=-90, showarrow=False, font=dict(size=7.5, family=FONT)))
    if col == 1:
        annotations.append(dict(text="<b>TFT per archi di 12 mesi</b>", x=px(x1p + 21), y=py((ytp + ybp) / 2),
                                xref="paper", yref="paper", xanchor="center", yanchor="middle",
                                textangle=90, showarrow=False, font=dict(size=7.5, family=FONT)))
    annotations.append(dict(text="<b>Mesi</b>", x=px((x0p + x1p) / 2), y=py(ybp + 41),
                            xref="paper", yref="paper", xanchor="center", yanchor="middle",
                            showarrow=False, font=dict(size=7.5, family=FONT)))

layout["shapes"] = shapes
layout["annotations"] = annotations
fig.update_layout(**layout)
fig.write_html("out.html")
